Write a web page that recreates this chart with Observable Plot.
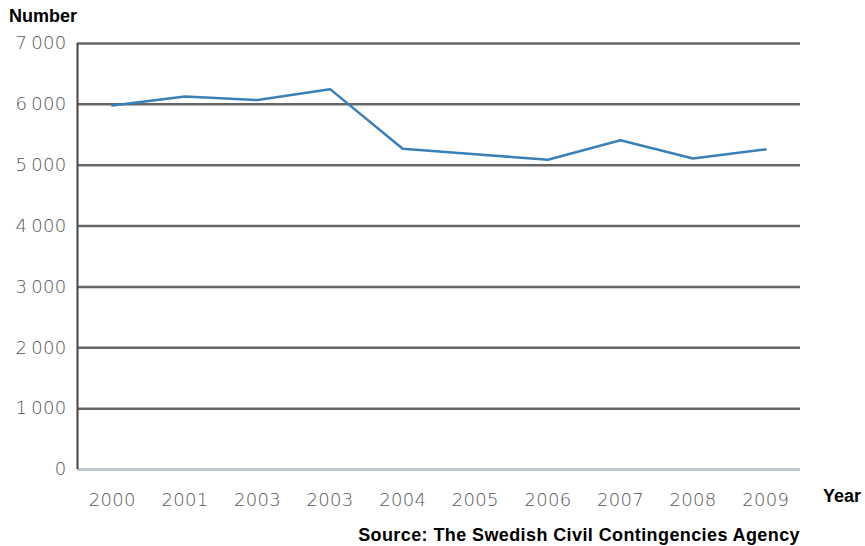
<!DOCTYPE html>
<html>
<head>
<meta charset="utf-8">
<script src="https://cdn.jsdelivr.net/npm/d3@7"></script>
<script src="https://cdn.jsdelivr.net/npm/@observablehq/plot@0.6"></script>
<style>
  body { margin: 0; background: #fff; }
  #chart { position: relative; width: 865px; height: 546px; }
  .lbl {
    position: absolute;
    font-family: "Liberation Sans", Arial, sans-serif;
    font-weight: bold;
    font-size: 18px;
    line-height: 18px;
    color: #000;
    white-space: nowrap;
  }
</style>
</head>
<body>
<div id="chart"></div>
<script>
// Year labels along the bottom (as printed, including the repeated 2003)
const yearLabels = ["2000", "2001", "2003", "2003", "2004", "2005", "2006", "2007", "2008", "2009"];
// Number per year
const counts = [5980, 6130, 6070, 6250, 5270, 5180, 5090, 5410, 5110, 5260];
// Value axis ticks
const yTicks = [0, 1000, 2000, 3000, 4000, 5000, 6000, 7000];

const data = counts.map((v, i) => ({ i, v }));
const xPad = 0.48;
const fmtThousands = d => d < 1000 ? String(d) : d3.format(",")(d).replace(",", "\u2009");

const plot = Plot.plot({
  width: 865,
  height: 546,
  marginTop: 43,
  marginBottom: 77,
  marginLeft: 77,
  marginRight: 65,
  style: {
    fontFamily: "'DejaVu Sans', sans-serif",
    fontWeight: 200,
    fontSize: "18px",
    color: "#555",
    letterSpacing: "0.3px",
    background: "transparent"
  },
  x: {
    domain: [-xPad, yearLabels.length - 1 + xPad],
    ticks: d3.range(yearLabels.length),
    tickFormat: i => yearLabels[i],
    tickSize: 0,
    tickPadding: 24,
    label: null
  },
  y: {
    domain: [0, 7000],
    ticks: yTicks,
    tickFormat: fmtThousands,
    tickSize: 0,
    tickPadding: 11,
    label: null
  },
  marks: [
    Plot.ruleY(yTicks.filter(d => d > 0), { stroke: "#666", strokeWidth: 2.5 }),
    Plot.ruleY([0], { stroke: "#bcc8d0", strokeWidth: 3 }),
    Plot.ruleX([-xPad], { y1: 0, y2: 7000, stroke: "#444", strokeWidth: 2 }),
    Plot.line(data, { x: "i", y: "v", stroke: "#3a80b8", strokeWidth: 2.5 })
  ]
});

const chart = document.getElementById("chart");
chart.appendChild(plot);

function addLabel(text, style) {
  const el = document.createElement("div");
  el.className = "lbl";
  el.textContent = text;
  Object.assign(el.style, style);
  chart.appendChild(el);
}
addLabel("Number", { left: "9px", top: "7px" });
addLabel("Year", { left: "823px", top: "487px" });
addLabel("Source: The Swedish Civil Contingencies Agency", { right: "65px", top: "526px", letterSpacing: "0.4px" });
</script>
</body>
</html>
